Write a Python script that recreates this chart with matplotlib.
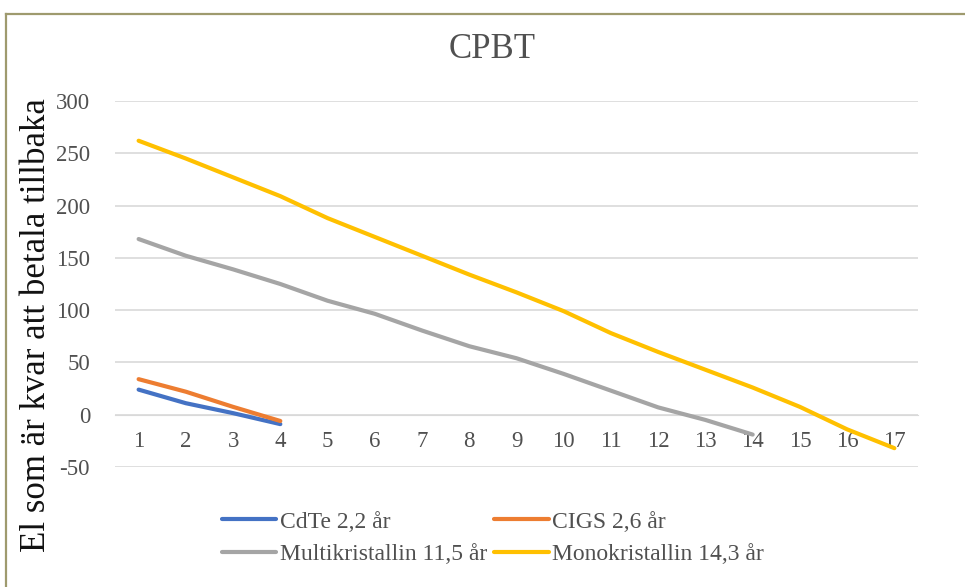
import matplotlib.pyplot as plt
from matplotlib.lines import Line2D

# Data
years = list(range(1, 18))
cdte = [24, 11, 1.5, -9]
cigs = [34, 22, 7.5, -6]
multi = [168, 152, 139, 125, 109, 96.5, 80.5, 65.5, 54, 39, 23, 7, -5, -19]
mono = [262, 245, 227, 209, 188, 170, 152, 134, 117, 99, 78, 60, 43, 26, 7.5, -14, -32]

labels = ['CdTe 2,2 år', 'CIGS 2,6 år', 'Multikristallin 11,5 år', 'Monokristallin 14,3 år']
colors = ['#4472C4', '#ED7D31', '#A5A5A5', '#FFC000']
yticks = [-50, 0, 50, 100, 150, 200, 250, 300]

plt.rcParams['font.family'] = ['Liberation Serif', 'DejaVu Serif']
plt.rcParams['axes.unicode_minus'] = False

fig = plt.figure(figsize=(9.65, 5.87), dpi=100)
ax = fig.add_axes([115/965, 1-467/587, (918-115)/965, (467-101)/587])

series = [cdte, cigs, multi, mono]
lines = []
for vals, lab, col in zip(series, labels, colors):
    ln, = ax.plot(years[:len(vals)], vals, color=col, lw=3, label=lab,
                  solid_capstyle='round', zorder=3)
    lines.append(ln)

ax.set_xlim(0.5, 17.5)
ax.set_ylim(-50, 300)
ax.set_yticks(yticks)
ax.set_xticks(years)
ax.grid(axis='y', color='#D9D9D9', lw=1.2)
ax.set_axisbelow(True)
for s in ['top', 'right', 'left']:
    ax.spines[s].set_visible(False)
ax.spines['bottom'].set_position(('data', 0))
ax.spines['bottom'].set_color('#D9D9D9')
ax.tick_params(axis='both', length=0, labelsize=16.5, labelcolor='#505050')
ax.tick_params(axis='y', pad=18)
ax.tick_params(axis='x', pad=12)

fig.text(492/965, 1-50/587, 'CPBT', ha='center', va='center', fontsize=25, color='#505050')
fig.text(37/965, 1-325/587, 'El som är kvar att betala tillbaka', rotation=90,
         ha='center', va='center', fontsize=25, color='#111111')

order = [0, 2, 1, 3]
fig.legend([lines[i] for i in order], [labels[i] for i in order], ncol=2,
           loc='center', bbox_to_anchor=(493/965, 1-538/587), frameon=False,
           fontsize=17, handlelength=2.3, handletextpad=0.15, columnspacing=0.3,
           labelspacing=0.45, labelcolor='#505050')

# chart frame (top and left edges visible)
fig.add_artist(Line2D([6/965, 1], [1-14/587, 1-14/587], color='#9E9A6E', lw=1.6))
fig.add_artist(Line2D([6/965, 6/965], [0, 1-14/587], color='#9E9A6E', lw=1.6))

fig.savefig('out.png', dpi=100)
